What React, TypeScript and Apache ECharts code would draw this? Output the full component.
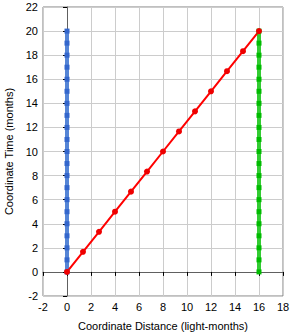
import React, { useEffect, useRef } from "react";
import * as echarts from "echarts";

const blueX = [0, 0, 0, 0, 0, 0, 0, 0, 0, 0, 0, 0, 0, 0, 0, 0, 0, 0, 0, 0, 0];
const blueY = [0, 1, 2, 3, 4, 5, 6, 7, 8, 9, 10, 11, 12, 13, 14, 15, 16, 17, 18, 19, 20];
const greenX = [16, 16, 16, 16, 16, 16, 16, 16, 16, 16, 16, 16, 16, 16, 16, 16, 16, 16, 16, 16, 16];
const greenY = [0, 1, 2, 3, 4, 5, 6, 7, 8, 9, 10, 11, 12, 13, 14, 15, 16, 17, 18, 19, 20];
const redX = [0, 1.333, 2.667, 4, 5.333, 6.667, 8, 9.333, 10.667, 12, 13.333, 14.667, 16];
const redY = [0, 1.667, 3.333, 5, 6.667, 8.333, 10, 11.667, 13.333, 15, 16.667, 18.333, 20];

const xName = "Coordinate Distance (light-months)";
const yName = "Coordinate Time (months)";

const pairs = (xs: number[], ys: number[]) => xs.map((x, i) => [x, ys[i]]);

export default function App() {
  const ref = useRef<HTMLDivElement>(null);
  useEffect(() => {
    if (!ref.current) return;
    const chart = echarts.init(ref.current, undefined, { renderer: "svg" });
    const font = "Liberation Sans";
    chart.setOption({
      animation: false,
      backgroundColor: "#ffffff",
      grid: {
        left: 43,
        top: 7,
        right: 10,
        bottom: 40,
        containLabel: false,
        outerBoundsMode: "none",
        show: true,
        borderColor: "#808080",
        borderWidth: 1,
      },
      xAxis: {
        type: "value",
        min: -2,
        max: 18,
        interval: 2,
        name: xName,
        nameLocation: "middle",
        nameGap: 24,
        nameTextStyle: { fontFamily: font, fontSize: 11, color: "#000" },
        axisLine: { show: true, lineStyle: { color: "#606060", width: 1 } },
        axisTick: { show: true, length: 4, lineStyle: { color: "#000" } },
        axisLabel: { fontFamily: font, fontSize: 11, color: "#000", margin: 5 },
        splitLine: { show: true, lineStyle: { color: "#cccccc", width: 1 } },
      },
      yAxis: {
        type: "value",
        min: -2,
        max: 22,
        interval: 2,
        name: yName,
        nameLocation: "middle",
        nameGap: 27,
        nameTextStyle: { fontFamily: font, fontSize: 11, color: "#000" },
        axisLine: { show: true, lineStyle: { color: "#606060", width: 1 } },
        axisTick: { show: true, length: 4, lineStyle: { color: "#000" } },
        axisLabel: { fontFamily: font, fontSize: 11, color: "#000", margin: 5 },
        splitLine: { show: true, lineStyle: { color: "#cccccc", width: 1 } },
      },
      series: [
        {
          type: "line",
          data: pairs(blueX, blueY),
          lineStyle: { color: "#5585d6", width: 4 },
          itemStyle: { color: "#3366cc" },
          symbol: "rect",
          symbolSize: 5,
        },
        {
          type: "line",
          data: pairs(greenX, greenY),
          lineStyle: { color: "#33cc33", width: 4 },
          itemStyle: { color: "#00bb00" },
          symbol: "rect",
          symbolSize: 5,
        },
        {
          type: "line",
          data: pairs(redX, redY),
          lineStyle: { color: "#ff0000", width: 2 },
          itemStyle: { color: "#ee0000" },
          symbol: "circle",
          symbolSize: 6,
        },
      ],
    });
    return () => chart.dispose();
  }, []);
  return (
    <div
      ref={ref}
      style={{ position: "fixed", left: 0, top: 0, width: 293, height: 336 }}
    />
  );
}
